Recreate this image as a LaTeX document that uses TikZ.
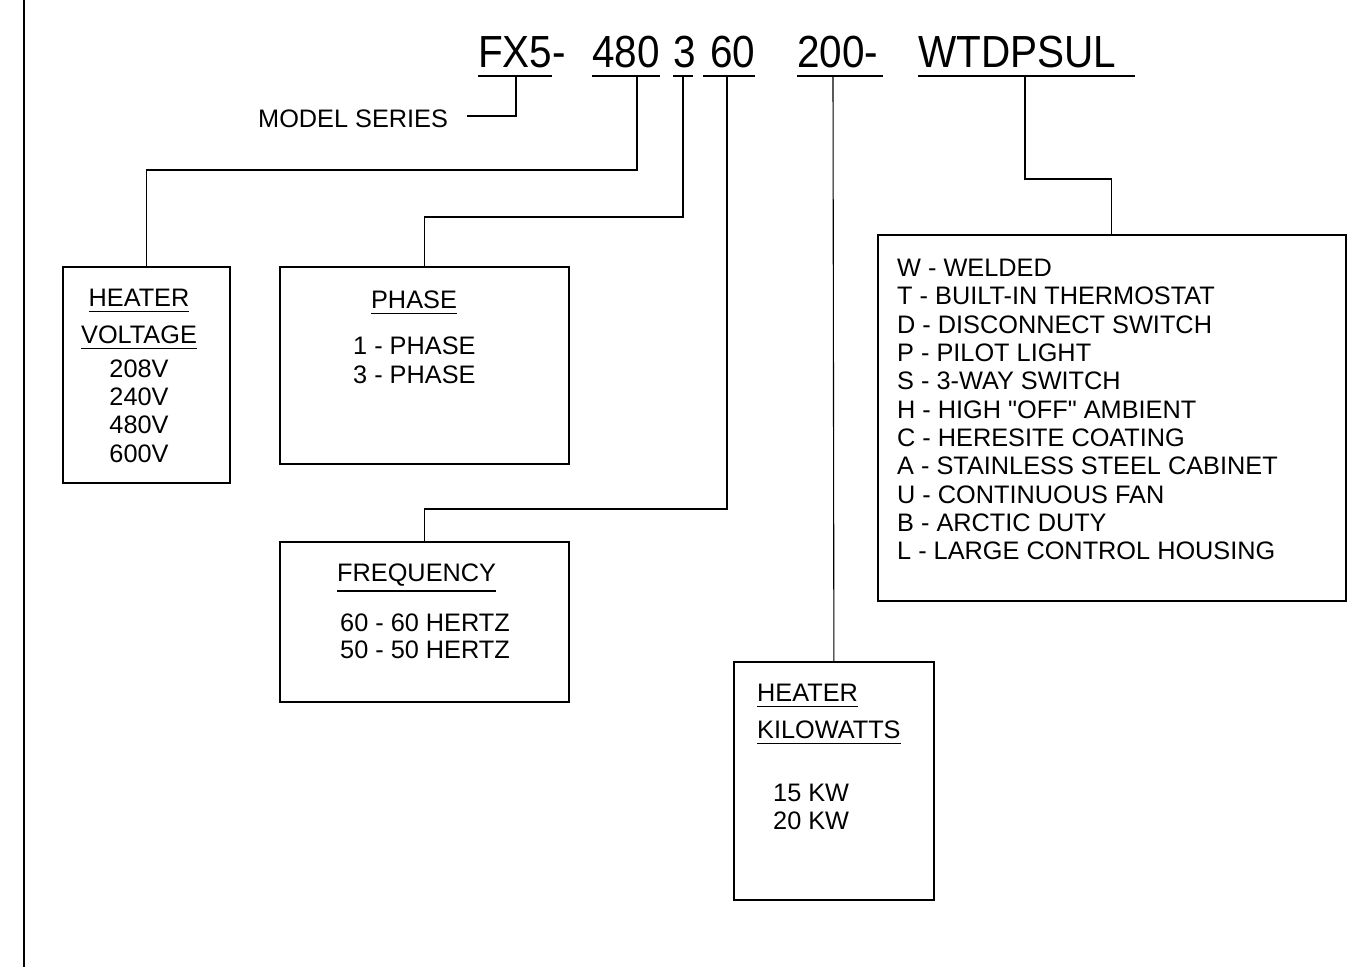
\documentclass[tikz,border=0pt]{standalone}
\usepackage{fontspec}
\setmainfont{Liberation Sans}[Ligatures=TeXOff]
\newfontfamily\hdrfont[FakeStretch=0.9]{Liberation Sans}
\newcommand\myul[1]{\leavevmode\vtop{\hbox{#1}\kern4.5pt\hrule height 1.6pt}}
\begin{document}
\begin{tikzpicture}[x=1pt,y=-1pt,
  box/.style={draw,line width=1.8pt,inner sep=0pt,anchor=north west},
  wire/.style={line width=1.1pt},
  uline/.style={line width=1.3pt},
  hdr/.style={inner sep=0pt,anchor=base west,font=\hdrfont\fontsize{45}{50}\selectfont},
  txt/.style={inner sep=0pt,font=\fontsize{25.3}{28.3}\selectfont},
]
\useasboundingbox (0,0) rectangle (1360,967);
% left border
\draw[line width=2.4pt] (24,0) -- (24,967);

% header code
\node[hdr] (fx5) at (478,67) {FX5-};
\node[hdr] (c480) at (592,67) {480};
\node[hdr] (c3) at (673,67) {3};
\node[hdr] (c60) at (710,67) {60};
\node[hdr] (c200) at (797,67) {200-};
\node[hdr] (cw) at (918,67) {WTDPSUL};

% underlines
\draw[uline] (478,76) -- (552,76);
\draw[uline] (592,76) -- (660,76);
\draw[uline] (673,76) -- (693,76);
\draw[uline] (703,76) -- (755,76);
\draw[uline] (797,76) -- (883,76);
\draw[uline] (918,76) -- (1135,76);
\coordinate (ufx5) at (516,76);
\coordinate (u480) at (637,76);
\coordinate (u3) at (683,76);
\coordinate (u60) at (727,76);
\coordinate (u200) at (833,76);
\coordinate (uw) at (1025,76);

% model series
\node[txt,anchor=base west] (ms) at (258,127) {MODEL SERIES};
\coordinate (msend) at (467,116);

% boxes
\node[box,minimum width=167pt,minimum height=216pt] (hv) at (62,266) {};
\node[box,minimum width=289pt,minimum height=197pt] (ph) at (279,266) {};
\node[box,minimum width=289pt,minimum height=160pt] (fr) at (279,541) {};
\node[box,minimum width=200pt,minimum height=238pt] (kw) at (733,661) {};
\node[box,minimum width=468pt,minimum height=366pt] (op) at (877,234) {};

% connectors
\draw[wire] (ufx5) |- (msend);
\draw[wire] (u480) -- (637,170) -| (hv.north);
\draw[wire] (u3) -- (683,217) -| (ph.north);
\draw[wire] (u60) -- (727,509) -| (fr.north);
\draw[wire] (u200) -- (kw.north);
\draw[wire] (uw) -- (1025,179) -| (op.north);

% heater voltage
\node[txt,anchor=base] (hvt1) at (139,306) {\myul{HEATER}};
\node[txt,anchor=base] (hvt2) at (139,343) {\myul{VOLTAGE}};
\node[txt,anchor=base] (hv1) at (139,377) {208V};
\node[txt,anchor=base] (hv2) at (139,405) {240V};
\node[txt,anchor=base] (hv3) at (139,433) {480V};
\node[txt,anchor=base] (hv4) at (139,462) {600V};

% phase
\node[txt,anchor=base] (pht) at (414,308) {\myul{PHASE}};
\node[txt,anchor=base west] (ph1) at (353,354) {1 - PHASE};
\node[txt,anchor=base west] (ph3) at (353,383) {3 - PHASE};

% frequency
\node[txt,anchor=base west] (frt) at (337,581) {\myul{FREQUENCY}};
\node[txt,anchor=base west] (fr1) at (340,631) {60 - 60 HERTZ};
\node[txt,anchor=base west] (fr2) at (340,658) {50 - 50 HERTZ};

% kilowatts
\node[txt,anchor=base west] (kwt1) at (757,701) {\myul{HEATER}};
\node[txt,anchor=base west] (kwt2) at (757,738) {\myul{KILOWATTS}};
\node[txt,anchor=base west] (kw1) at (773,801) {15 KW};
\node[txt,anchor=base west] (kw2) at (773,829) {20 KW};

% options
\node[txt,anchor=north west,align=left] (opt) at (897,259) {W - WELDED\\
T - BUILT-IN THERMOSTAT\\
D - DISCONNECT SWITCH\\
P - PILOT LIGHT\\
S - 3-WAY SWITCH\\
H - HIGH "OFF" AMBIENT\\
C - HERESITE COATING\\
A - STAINLESS STEEL CABINET\\
U - CONTINUOUS FAN\\
B - ARCTIC DUTY\\
L - LARGE CONTROL HOUSING};
\end{tikzpicture}
\end{document}
